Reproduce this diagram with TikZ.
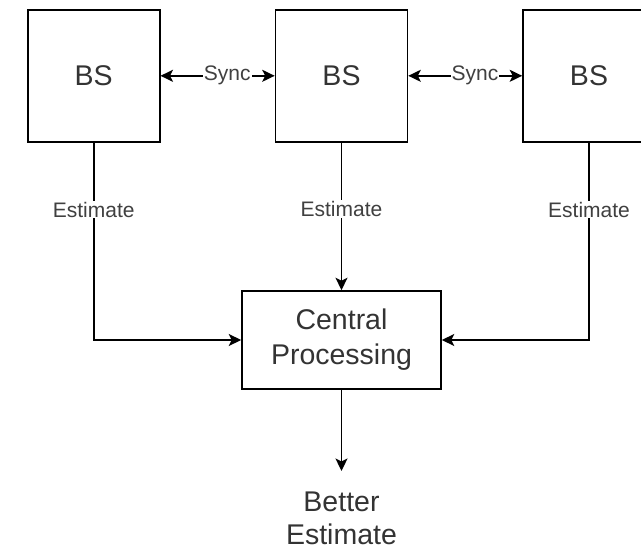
\documentclass[tikz,border=0pt]{standalone}
\usepackage{fontspec}
\setmainfont{Liberation Sans}
\usetikzlibrary{arrows.meta}
\begin{document}
\begin{tikzpicture}[x=1pt,y=-1pt,
  tip/.tip={Stealth[length=12.5pt,width=12pt,inset=3pt]},
  box/.style={draw=black, line width=1.6pt, text=black!80, inner sep=0pt,
              align=center, font=\fontsize{28.5}{35}\selectfont},
  bsbox/.style={box, minimum width=132pt, minimum height=132pt},
  lbl/.style={fill=white, text=black!75, inner sep=1pt,
              font=\fontsize{21}{24}\selectfont},
  conn/.style={draw=black, line width=1.6pt, -tip},
  sync/.style={conn, tip-tip}]
  \useasboundingbox (0,0) rectangle (641,550);
  \clip (0,0) rectangle (641,550);

  % base stations
  \node[bsbox] (bs1) at (93.7,75.8) {BS};
  \node[bsbox] (bs2) at (341.5,75.8) {BS};
  \node[bsbox] (bs3) at (589,75.8) {BS};

  % fusion centre and its output
  \node[box, minimum width=199pt, minimum height=98pt] (cp) at (341.5,340) {Central\\Processing};
  \node[text=black!80, inner sep=0pt, align=center, font=\fontsize{28.5}{33}\selectfont] (out) at (341.5,518) {Better\\Estimate};

  % synchronisation links
  \draw[sync] (bs1.east) -- (bs2.west) node[lbl, pos=0.585] {Sync};
  \draw[sync] (bs2.east) -- (bs3.west) node[lbl, pos=0.585] {Sync};

  % estimates sent to the centre
  \draw[conn] (bs1.south) |- (cp.west) node[lbl, pos=0.17] {Estimate};
  \draw[conn] (bs2.south) -- (cp.north) node[lbl, pos=0.45] {Estimate};
  \draw[conn] (bs3.south) |- (cp.east) node[lbl, pos=0.17] {Estimate};

  % result
  \draw[conn] (cp.south) -- (341.5,471) coordinate (outtip);
\end{tikzpicture}
\end{document}
